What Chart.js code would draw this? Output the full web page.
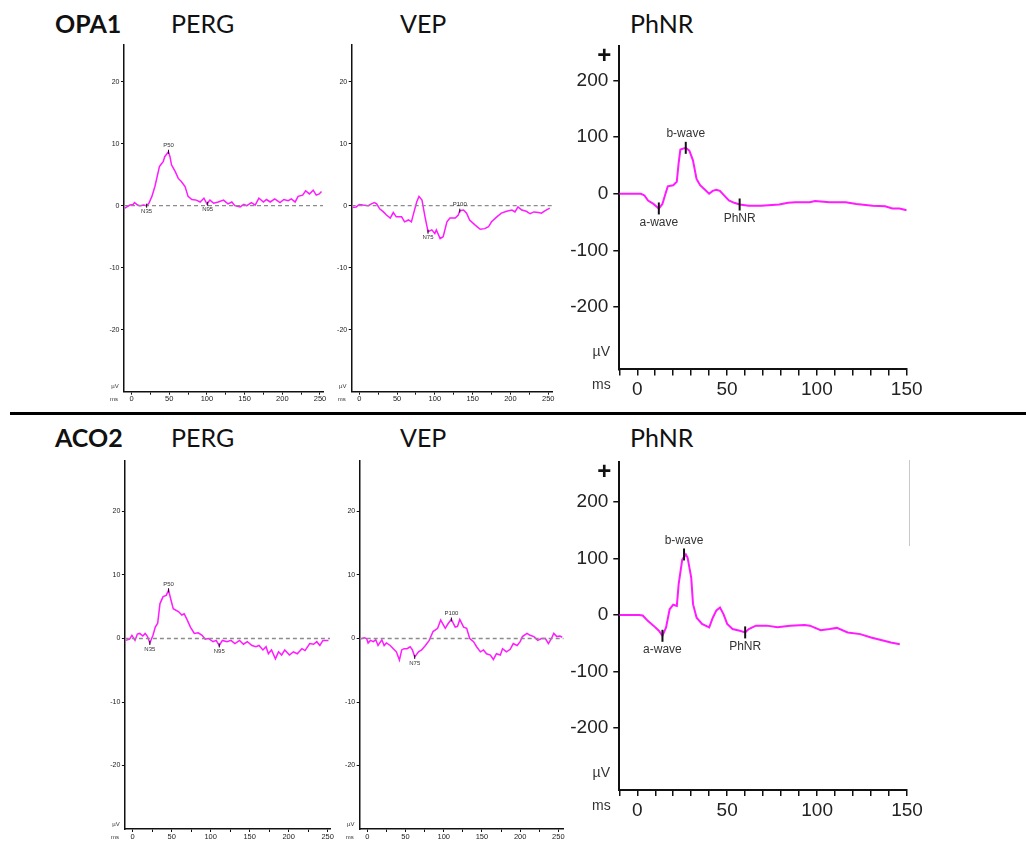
<!DOCTYPE html>
<html>
<head>
<meta charset="utf-8">
<script src="https://cdn.jsdelivr.net/npm/chart.js@4.4.1/dist/chart.umd.min.js"></script>
<style>
  body { margin: 0; background: #fff; width: 1026px; height: 855px; position: relative; overflow: hidden; font-family: Lato, "Open Sans", sans-serif; }
  canvas { position: absolute; }
  .hd { position: absolute; font-size: 25px; line-height: 1; color: #111; white-space: nowrap; }
  .b { font-weight: 700; }
  .sep { position: absolute; left: 10px; top: 412px; width: 1016px; height: 3px; background: #000; }
  .edge { position: absolute; left: 909px; top: 460px; width: 1px; height: 86px; background: #c8c8c8; }
</style>
</head>
<body>
<div class="hd b" style="left:55px;top:11px">OPA1</div>
<div class="hd" style="left:171px;top:11px">PERG</div>
<div class="hd" style="left:400px;top:11px">VEP</div>
<div class="hd" style="left:630px;top:11px">PhNR</div>
<div class="sep"></div>
<div class="hd b" style="left:55px;top:425px">ACO2</div>
<div class="hd" style="left:171px;top:425px">PERG</div>
<div class="hd" style="left:400px;top:425px">VEP</div>
<div class="hd" style="left:630px;top:425px">PhNR</div>
<div class="edge"></div>

<script>
// traces (ms, µV)
const opa1PergMs = [-9,-2,2,4,8,11,16,20,23,27,31,37,40,42,44,49,51,53,58,62,66,71,75,80,86,91,96,100,104,109,115,122,128,133,137,144,149,153,159,164,169,175,179,184,190,197,202,208,212,217,221,227,231,236,241,245,249,252];
const opa1PergUv = [-0.4,0.1,0.2,0.5,0.1,0,0.1,0,0.4,1.5,3.1,6.3,6.8,7.1,7.9,8.7,7.9,6.6,5.5,4.4,3.9,3.1,1.5,1.0,0.9,0.6,1.2,0.3,0.9,0.4,0.6,0.9,0.3,0.6,0,-0.2,0.2,0,0.5,0.1,1.2,0.6,1.0,0.6,1.1,0.5,1.0,0.8,1.1,0.6,1.5,1.7,2.4,1.9,2.5,1.7,1.9,2.3];

const opa1VepMs = [-9,-4,0,5,12,16,20,23,27,32,36,41,45,49,56,60,65,69,72,76,79,83,87,91,96,100,102,107,111,116,120,127,131,133,138,142,146,153,160,166,171,175,182,188,195,202,206,210,215,221,226,231,237,241,246,252];
const opa1VepUv = [-0.3,-0.2,0.2,0.1,0,0.3,0.5,0.3,-0.5,-1.0,-1.5,-2.0,-1.1,-1.8,-1.8,-2.6,-2.3,-2.6,-1.2,0.6,1.5,0.9,-1.8,-4.2,-3.9,-4.5,-3.9,-5.3,-5.0,-2.6,-2.0,-2.0,-1.5,-0.8,-0.7,-1.2,-2.3,-3.1,-3.8,-3.7,-3.4,-2.6,-1.8,-1.2,-0.9,-0.7,-1.0,-0.2,-0.7,-0.9,-1.3,-1.0,-1.1,-1.2,-0.8,-0.4];

const opa1PhnrMs = [-10,2,4,6,9,12,14,16,17,20,22,23,24,27,29,31,33,35,38,40,42,44,46,49,51,54,57,62,69,79,84,88,96,99,107,116,122,131,138,142,146,150];
const opa1PhnrUv = [0,0,-3,-12,-18,-26,-18,3,13,15,21,53,78,81,76,59,26,15,6,0,5,7,5,-5,-12,-16,-19,-21,-21,-19,-16,-15,-15,-13,-15,-15,-18,-21,-22,-26,-26,-29];

const aco2PergMs = [-9,-4,-1,3,6,9,13,16,19,22,26,29,32,35,39,43,46,49,52,59,63,66,70,74,79,84,89,93,97,103,107,111,115,121,126,131,137,142,147,153,158,162,167,171,174,178,183,187,191,195,201,206,211,217,221,227,232,236,240,244,251];
const aco2PergUv = [-0.3,-0.1,0.5,-0.3,0.7,0.8,0.4,0.8,0.3,-0.7,0.5,1.8,2.4,5.5,6.6,6.8,7.6,6.1,4.7,4.2,3.7,3.9,2.9,1.8,0.8,0.9,0.5,-0.1,0,-0.5,-0.3,-1.1,-0.3,-0.5,-0.3,-0.8,-0.3,-0.9,-0.5,-1.1,-1.3,-1.1,-1.8,-1.3,-2.4,-1.8,-3.2,-2.1,-2.6,-1.8,-2.6,-2.1,-2.4,-1.6,-1.9,-0.8,-0.9,-0.5,-1.1,-0.3,-0.3];

const aco2VepMs = [-10,-4,-1,1,4,8,11,14,19,22,25,30,34,38,42,45,48,52,56,59,62,67,71,76,81,86,92,96,102,106,110,115,118,121,126,130,134,139,143,148,152,156,161,165,169,174,177,182,187,191,196,200,203,209,213,218,223,228,233,237,241,244,248,252,255];
const aco2VepUv = [-0.1,0.1,0,-0.7,-0.3,-0.5,-0.2,-1.1,-0.2,-1.1,-0.7,-1.1,-1.6,-2.1,-3.4,-1.8,-1.6,-1.6,-1.3,-1.8,-2.9,-2.1,-1.8,-1.1,-0.3,1.1,1.6,2.9,1.6,2.4,3.0,1.8,1.9,3.0,1.8,1.6,0,-0.5,-1.3,-2.1,-1.8,-2.4,-2.6,-3.3,-2.4,-2.6,-1.6,-2.1,-1.7,-0.8,-1.1,-0.5,0.3,0.8,0.5,0.3,-0.3,0,0,-0.8,0,0.8,0.3,0.4,0.2];

const aco2PhnrMs = [-10,1,3,6,9,12,14,16,18,20,22,23,25,27,28,30,31,33,36,40,42,44,46,48,50,53,57,60,62,66,72,78,85,93,96,102,107,111,117,124,130,135,141,146];
const aco2PhnrUv = [0,0,-1,-11,-19,-28,-37,-22,10,18,16,54,98,107,101,66,19,-5,-16,-22,-5,8,13,1,-16,-25,-28,-31,-25,-19,-19,-22,-19,-18,-19,-27,-25,-23,-31,-34,-40,-44,-49,-52];

// peak markers: name, ms, µV
const opa1PergMarks = [['N35', 20, 0], ['P50', 49, 8.7], ['N95', 101, 0.3]];
const opa1VepMarks = [['N75', 91, -4.2], ['P100', 133, -0.8]];
const opa1PhnrMarks = [['a-wave', 12, -26], ['b-wave', 27, 81], ['PhNR', 57, -19]];
const aco2PergMarks = [['N35', 22, -0.7], ['P50', 46, 7.6], ['N95', 111, -1.1]];
const aco2VepMarks = [['N75', 62, -2.9], ['P100', 110, 3.0]];
const aco2PhnrMarks = [['a-wave', 14, -37], ['b-wave', 26, 107], ['PhNR', 60, -31]];

// tick values
const pergXTicks = [0, 25, 50, 75, 100, 125, 150, 175, 200, 225, 250];
const pergYTicks = [-20, -10, 0, 10, 20];
const phnrXTicks = [-10, 0, 10, 20, 30, 40, 50, 60, 70, 80, 90, 100, 110, 120, 130, 140, 150];
const phnrYTicks = [-200, -100, 0, 100, 200];

const MAGENTA = '#ff1aff';
const FONT = "'Liberation Sans', Arial, sans-serif";

const markPlugin = {
  id: 'marks',
  afterDatasetsDraw(chart, args, o) {
    const { ctx, chartArea: a, scales: { x, y } } = chart;
    ctx.save();
    ctx.textAlign = 'center';
    ctx.textBaseline = 'middle';
    o.marks.forEach(([name, ms, uv]) => {
      const px = x.getPixelForValue(ms), py = y.getPixelForValue(uv);
      const up = o.above.includes(name);
      ctx.strokeStyle = '#111';
      ctx.lineWidth = o.big ? 2 : 1;
      const h = o.big ? 6 : 2;
      ctx.beginPath();
      ctx.moveTo(px, py - h);
      ctx.lineTo(px, py + h);
      ctx.stroke();
      ctx.fillStyle = '#333';
      ctx.font = (o.big ? 12 : 6) + 'px ' + FONT;
      ctx.fillText(name, px, py + (up ? -o.off : o.off));
    });
    // unit labels
    ctx.fillStyle = '#333';
    if (o.big) {
      ctx.font = '14px ' + FONT;
      ctx.fillText('µV', a.left - 18, a.bottom - 17);
      ctx.fillText('ms', a.left - 18, a.bottom + 16);
      ctx.fillStyle = '#111';
      ctx.font = 'bold 24px ' + FONT;
      ctx.fillText('+', a.left - 15, a.top + 10);
    } else {
      ctx.font = '6px ' + FONT;
      ctx.fillText('µV', a.left - 9, a.bottom - 5);
      ctx.fillText('ms', a.left - 10, a.bottom + 8);
    }
    ctx.restore();
  }
};

function addPanel(p) {
  const [bl, bt, bw, bh] = p.box;
  const [al, at, ar, ab] = p.area;
  const c = document.createElement('canvas');
  c.width = bw; c.height = bh;
  c.style.left = bl + 'px'; c.style.top = bt + 'px';
  document.body.appendChild(c);

  const big = p.kind === 'phnr';
  const pts = p.ms.map((v, i) => ({ x: v, y: p.uv[i] }));
  const datasets = [];
  if (!big) {
    datasets.push({ data: [{ x: p.x[0], y: 0 }, { x: p.x[1], y: 0 }], borderColor: '#8c8c8c', borderDash: [4, 3], borderWidth: 1.3, pointRadius: 0 });
  }
  datasets.push({ data: pts, borderColor: MAGENTA, borderWidth: big ? 2 : 1.5, pointRadius: 0, tension: 0 });

  const xt = big ? phnrXTicks : pergXTicks;
  const yt = big ? phnrYTicks : pergYTicks;
  new Chart(c, {
    type: 'line',
    data: { datasets },
    options: {
      responsive: false,
      animation: false,
      layout: { padding: { left: 0, bottom: 0, top: at - bt, right: bl + bw - ar } },
      plugins: {
        legend: { display: false },
        tooltip: { enabled: false },
        marks: { marks: p.marks, above: ['P50', 'P100', 'b-wave'], big, off: big ? 14 : 6 }
      },
      scales: {
        x: {
          type: 'linear', min: p.x[0], max: p.x[1],
          afterFit: s => { s.height = bt + bh - ab; },
          afterBuildTicks: s => { s.ticks = xt.map(v => ({ value: v })); },
          ticks: {
            autoSkip: false, maxRotation: 0,
            callback: v => (v % 50 === 0 ? String(v) : ''),
            color: '#222',
            padding: big ? 3 : 0,
            font: { family: FONT, size: big ? 19 : 7.5 }
          },
          grid: { drawOnChartArea: false, drawTicks: true, tickLength: big ? 6 : 3, color: '#111', lineWidth: big ? 1.5 : 1 },
          border: { display: true, color: '#111', width: big ? 2 : 1.5 }
        },
        y: {
          type: 'linear', min: p.y[0], max: p.y[1],
          afterFit: s => { s.width = al - bl; },
          afterBuildTicks: s => { s.ticks = yt.map(v => ({ value: v })); },
          ticks: {
            autoSkip: false,
            callback: v => String(v),
            color: '#222',
            padding: big ? 5 : 1.5,
            font: { family: FONT, size: big ? 19 : 7 }
          },
          grid: { drawOnChartArea: false, drawTicks: true, tickLength: big ? 6 : 3, color: '#111', lineWidth: big ? 1.5 : 1 },
          border: { display: true, color: '#111', width: big ? 2 : 1.5 }
        }
      }
    },
    plugins: [markPlugin]
  });
}

addPanel({ kind: 'perg', box: [84, 30, 260, 400], area: [124, 44.5, 323, 391.7], x: [-10, 254], y: [-30, 26], ms: opa1PergMs, uv: opa1PergUv, marks: opa1PergMarks });
addPanel({ kind: 'perg', box: [330, 30, 240, 400], area: [351.7, 44.5, 552, 391.7], x: [-10, 255], y: [-30, 26], ms: opa1VepMs, uv: opa1VepUv, marks: opa1VepMarks });
addPanel({ kind: 'phnr', box: [570, 30, 370, 390], area: [619.3, 45.6, 906.7, 369.4], x: [-10, 150], y: [-310, 260], ms: opa1PhnrMs, uv: opa1PhnrUv, marks: opa1PhnrMarks });
addPanel({ kind: 'perg', box: [84, 446, 266, 405], area: [124.9, 460.7, 330, 829], x: [-10, 253], y: [-30, 28], ms: aco2PergMs, uv: aco2PergUv, marks: aco2PergMarks });
addPanel({ kind: 'perg', box: [338, 446, 240, 405], area: [359.7, 460.7, 563.7, 829], x: [-10, 257], y: [-30, 28], ms: aco2VepMs, uv: aco2VepUv, marks: aco2VepMarks });
addPanel({ kind: 'phnr', box: [570, 446, 370, 400], area: [619.3, 460.9, 907, 790], x: [-10, 150], y: [-310, 270], ms: aco2PhnrMs, uv: aco2PhnrUv, marks: aco2PhnrMarks });
</script>
</body>
</html>
